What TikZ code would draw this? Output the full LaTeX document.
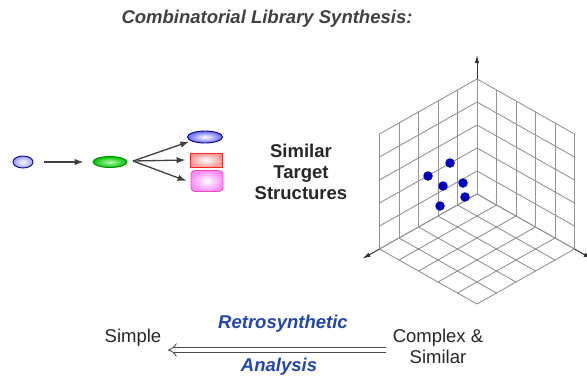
\documentclass[tikz,border=0pt]{standalone}
\usepackage{fontspec}
\setmainfont{Liberation Sans}
\usetikzlibrary{positioning,arrows.meta,shapes.geometric}

\definecolor{retroblue}{RGB}{35,70,170}

\begin{document}
\begin{tikzpicture}[x=1pt,y=-1pt,
  mol/.style={draw, line width=0.9pt, inner sep=0pt},
  oval/.style={mol, ellipse},
  link/.style={-{Latex[length=9pt,width=6.5pt]}, line width=1.3pt, black!75},
  gridline/.style={gray!85, line width=0.9pt},
  axis/.style={-{Latex[length=8pt,width=4.5pt]}, line width=1pt, black!80},
  hit/.style={circle, fill=blue!75!black, inner sep=0pt, minimum size=9.5pt},
  txt/.style={font=\fontsize{18.5}{21}\selectfont, text=black!85},
  bluetxt/.style={txt, font=\fontsize{18.5}{21}\selectfont\bfseries\itshape, text=retroblue}
]
  \useasboundingbox (0,0) rectangle (587,376);

  \node[txt, font=\fontsize{18.5}{21}\selectfont\bfseries\itshape, text=black!75] (title) at (267,19) {Combinatorial Library Synthesis:};

  % building blocks
  \node[oval, minimum width=20pt, minimum height=12pt, draw=blue!55!black, inner color=white, outer color=blue!40] (start) at (23,162) {};
  \node[oval, minimum width=34pt, minimum height=11pt, draw=green!55!black, inner color=green!30, outer color=green!75!black] (mid) at (110,162) {};
  \node[oval, minimum width=35pt, minimum height=12pt, draw=blue!50!black, inner color=white, outer color=blue!60] (p1) at (205,137) {};
  \node[mol, minimum width=32pt, minimum height=14pt, draw=red!85, inner color=white, outer color=red!40] (p2) at (206,160) {};
  \node[mol, rounded corners=4pt, minimum width=32pt, minimum height=21pt, draw=magenta!70, inner color=white, outer color=magenta!45] (p3) at (207,181) {};

  \coordinate (fan) at (133,161);
  \draw[link, shorten <=11pt, shorten >=9pt] (start) -- (mid);
  \draw[link] (fan) -- ([xshift=-3pt]p1.south west);
  \draw[link] (fan) -- ([xshift=-4pt]p2.west);
  \draw[link] (fan) -- ([xshift=-4pt]p3.west);

  \node[txt, font=\fontsize{18.5}{21}\selectfont\bfseries, align=center] (similar) at (301,172) {Similar\\Target\\Structures};

  % chemical space grid
  \def\ox{477}\def\oy{194}
  \foreach \i in {0,...,5} {
    \draw[gridline] (\ox-19.5*\i, \oy+11*\i) -- ++(0,-115);
    \draw[gridline] (\ox+19.5*\i, \oy+11*\i) -- ++(0,-115);
    \draw[gridline] (\ox, \oy-23*\i) -- ++(-97.5,55);
    \draw[gridline] (\ox, \oy-23*\i) -- ++(97.5,55);
    \draw[gridline] (\ox-19.5*\i, \oy+11*\i) -- ++(97.5,55);
    \draw[gridline] (\ox+19.5*\i, \oy+11*\i) -- ++(-97.5,55);
  }
  \draw[axis] (\ox,\oy-115) -- (\ox,55);
  \draw[axis] (\ox-97.5,\oy+55) -- ++(-17,9.6);
  \draw[axis] (\ox+97.5,\oy+55) -- ++(17,9.6);

  \node[hit] (h1) at (450,163) {};
  \node[hit] (h2) at (428,176) {};
  \node[hit] (h3) at (443,186) {};
  \node[hit] (h4) at (463,183) {};
  \node[hit] (h5) at (465,197) {};
  \node[hit] (h6) at (440,206) {};

  % retrosynthesis
  \node[txt] (simple) at (133,338) {Simple};
  \node[txt, align=center] (complex) at (438,346) {Complex \&\\Similar};
  \draw[gray!60!black, line width=0.8pt, double, double distance=4pt, -{Implies[length=8pt]}]
    ([xshift=-3pt,yshift=-4pt]complex.west) -- ([xshift=3pt,yshift=-12pt]simple.east);
  \node[bluetxt] (retro) at (283,324) {Retrosynthetic};
  \node[bluetxt] (analysis) at (279,367) {Analysis};
\end{tikzpicture}
\end{document}
